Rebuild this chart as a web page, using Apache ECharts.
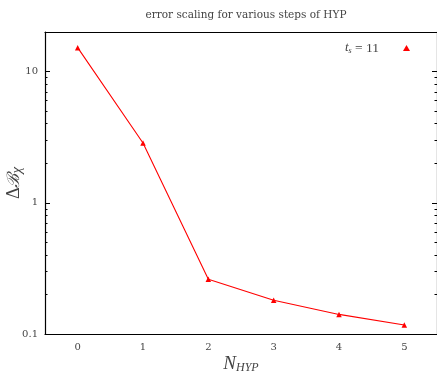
<!DOCTYPE html>
<html>
<head>
<meta charset="utf-8">
<script src="https://cdn.jsdelivr.net/npm/echarts@6/dist/echarts.min.js"></script>
<style>html,body{margin:0;padding:0;background:#fff}#c{width:437px;height:374px}</style>
</head>
<body>
<div id="c"></div>
<script>
// N_HYP steps and the error on Delta B_chi
const nHyp = ["0", "1", "2", "3", "4", "5"];
const deltaB = [15.2, 2.85, 0.261, 0.181, 0.141, 0.117];
const yMajor = [0.1, 1, 10];
const yMinor = [0.2, 0.3, 0.4, 0.5, 0.6, 0.7, 0.8, 0.9, 2, 3, 4, 5, 6, 7, 8, 9, 20];
const seriesName = "t_s = 11";

const serif = "DejaVu Serif";
const axisCol = "#000";
const txtCol = "#444";

function yAx(pos, ticks, len, labels){
    return {
        type: "log", min: 0.1, max: 20, position: pos,
        axisLine: {show: labels, lineStyle: {color: axisCol, width: 1.2}},
        axisTick: {show: true, inside: true, length: len, customValues: ticks, lineStyle: {color: axisCol}},
        axisLabel: labels ? {customValues: yMajor, color: txtCol, fontFamily: serif, fontSize: 10, margin: 7,
            formatter: v => String(v)} : {show: false},
        splitLine: {show: false}, minorTick: {show: false}
    };
}

const chart = echarts.init(document.getElementById("c"), null, {renderer: "canvas"});
const yLeft = yAx("left", yMajor, 5, true);
yLeft.name = "{d|Δ}{b|ℬ}{c|χ}";
yLeft.nameLocation = "middle";
yLeft.nameGap = 20;
yLeft.nameRotate = 90;
yLeft.nameMoveOverlap = false;
yLeft.nameTextStyle = {rich: {
    d: {fontFamily: "Liberation Serif", fontSize: 18, color: txtCol},
    b: {fontFamily: "DejaVu Serif", fontStyle: "italic", fontSize: 17, color: txtCol},
    c: {fontFamily: "Liberation Serif", fontStyle: "italic", fontSize: 15, color: txtCol, padding: [6, 0, 0, 0]}
}};
const yRight = yAx("right", yMajor, 5, true);
yRight.axisLabel = {show: false};

chart.setOption({
    animation: false,
    title: {
        text: "error scaling for various steps of HYP",
        left: 241, top: 5, textAlign: "center",
        textStyle: {fontFamily: serif, fontSize: 10.5, fontWeight: "normal", color: txtCol}
    },
    grid: {left: 45, right: 0, top: 32, bottom: 40, outerBoundsMode: "none"},
    legend: {
        right: 22, top: 36, align: "right", itemWidth: 7, itemHeight: 6,
        data: [{name: seriesName, icon: "triangle"}],
        formatter: () => "{i|t}{s|s}{n| = 11}",
        textStyle: {rich: {
            i: {fontFamily: "Liberation Serif", fontStyle: "italic", fontSize: 13, color: txtCol},
            s: {fontFamily: "Liberation Serif", fontStyle: "italic", fontSize: 8, color: txtCol, padding: [5, 0, 0, 0]},
            n: {fontFamily: "Liberation Serif", fontSize: 13.5, color: txtCol, padding: [0, 19, 0, 0]}
        }}
    },
    xAxis: [{
        type: "category", data: nHyp, boundaryGap: true, position: "bottom",
        axisLine: {lineStyle: {color: axisCol, width: 1.2}},
        axisTick: {inside: true, alignWithLabel: true, length: 5, lineStyle: {color: axisCol}},
        axisLabel: {color: txtCol, fontFamily: serif, fontSize: 10, margin: 8},
        name: "{n|N}{s|HYP}", nameLocation: "middle", nameGap: 20, nameMoveOverlap: false,
        nameTextStyle: {rich: {
            n: {fontFamily: "Liberation Serif", fontStyle: "italic", fontSize: 19, color: txtCol},
            s: {fontFamily: "Liberation Serif", fontStyle: "italic", fontSize: 12, color: txtCol, padding: [8, 0, 0, 0]}
        }}
    }, {
        type: "category", data: nHyp, boundaryGap: true, position: "top",
        axisLine: {lineStyle: {color: axisCol, width: 1.2}},
        axisTick: {inside: true, alignWithLabel: true, length: 5, lineStyle: {color: axisCol}},
        axisLabel: {show: false}
    }],
    yAxis: [yLeft, yAx("left", yMinor, 2.5, false), yRight, yAx("right", yMinor, 2.5, false)],
    series: [{
        name: seriesName, type: "line", data: deltaB,
        xAxisIndex: 0, yAxisIndex: 0,
        symbol: "triangle", symbolSize: 5.5, showAllSymbol: true,
        lineStyle: {color: "#ff0000", width: 1.1},
        itemStyle: {color: "#ff0000"}
    }]
});
</script>
</body>
</html>
